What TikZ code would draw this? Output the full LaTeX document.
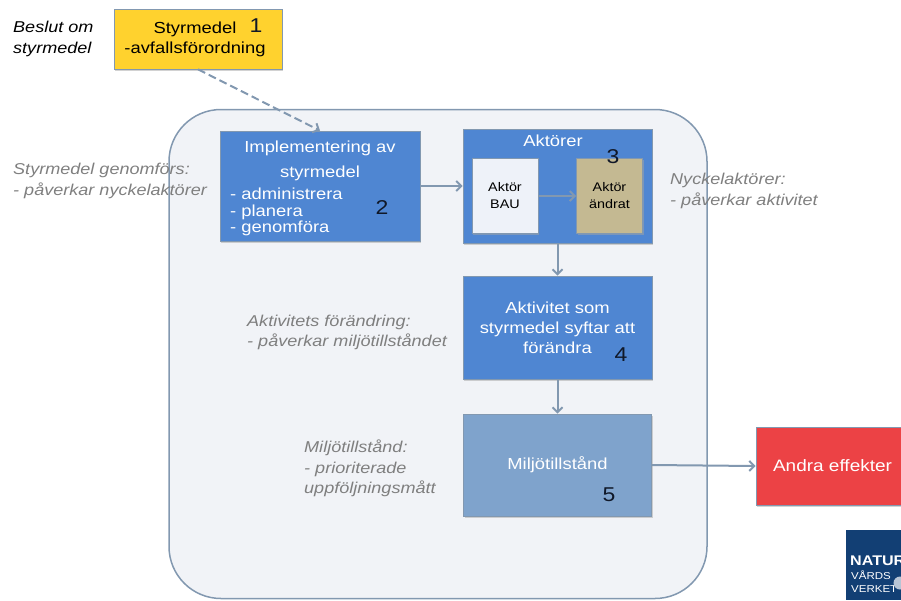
\documentclass[tikz,border=0pt]{standalone}
\usepackage{fontspec}
\setmainfont[FakeStretch=1.15]{Liberation Sans}
\usetikzlibrary{calc,shadows,arrows.meta}
\definecolor{panelfill}{HTML}{F1F3F7}
\definecolor{linegrey}{HTML}{8298B0}
\definecolor{boxblue}{HTML}{4F86D2}
\definecolor{stateblue}{HTML}{7FA3CC}
\definecolor{boxyellow}{HTML}{FFD22E}
\definecolor{boxtan}{HTML}{C4B992}
\definecolor{boxpale}{HTML}{EEF2F9}
\definecolor{boxred}{HTML}{EC4245}
\definecolor{logoblue}{HTML}{123F74}
\definecolor{numberink}{HTML}{101828}
\definecolor{notegrey}{HTML}{7F7F7F}
\tikzset{
    flowbox/.style={draw=linegrey, line width=0.7pt, fill=boxblue, text=white,
        align=center, inner sep=0pt, font=\fontsize{16}{20}\selectfont,
        drop shadow={shadow xshift=1pt, shadow yshift=-1.5pt, fill=black!35}},
    innerbox/.style={flowbox, text=black, font=\fontsize{12.5}{17}\selectfont,
        minimum width=66pt, minimum height=75pt},
    notetext/.style={align=left, anchor=north west, inner sep=0pt, text=notegrey,
        font=\fontsize{15.7}{20.5}\selectfont\itshape},
    numtext/.style={text=numberink, inner sep=0pt, font=\fontsize{20}{22}\selectfont},
    flowarrow/.style={-{Straight Barb[length=5pt,width=10pt]}, draw=linegrey, line width=2pt}
}
\begin{document}
\begin{tikzpicture}[x=1pt, y=-1pt]
    \useasboundingbox (0,0) rectangle (901,600);
    \clip (0,0) rectangle (901,600);
    % Panel
    \node [draw=linegrey,
        line width=1.5pt,
        fill=panelfill,
        rounded corners=52pt,
        minimum width=538pt,
        minimum height=489pt
    ]  (Panel) at (438,354) {};
    % Boxes
    \node [flowbox,
        fill=boxyellow,
        text=black,
        minimum width=168pt,
        minimum height=60pt,
        text width=168pt
    ]  (Policy) at (198,39) {\hspace*{-6pt}Styrmedel\\\hspace*{-6pt}-avfallsförordning};
    \node [flowbox,
        minimum width=200pt,
        minimum height=110pt,
        text width=190pt
    ]  (Implement) at (320,186) {};
    \node [text=white, align=center, font=\fontsize{16}{25}\selectfont]
        (ImplementTitle) at (320,161) {Implementering av\\styrmedel};
    \node [text=white, align=left, anchor=north west, inner sep=0pt,
        font=\fontsize{16}{16.5}\selectfont]
        (ImplementList) at (230,188) {- administrera\\- planera\\- genomföra};
    \node [flowbox,
        minimum width=189pt,
        minimum height=114pt
    ]  (Actors) at (557.5,186) {};
    \node [text=white, font=\fontsize{16}{18}\selectfont]
        (ActorsTitle) at (553,141) {Aktörer};
    \node [innerbox,
        fill=boxpale
    ]  (ActorBau) at (505,196) {Aktör\\BAU};
    \node [innerbox,
        fill=boxtan
    ]  (ActorNew) at (609.5,196) {Aktör\\ändrat};
    \node [flowbox,
        minimum width=189pt,
        minimum height=103pt
    ]  (Activity) at (557.5,327.5) {Aktivitet som\\styrmedel syftar att\\förändra};
    \node [flowbox,
        fill=stateblue,
        minimum width=188pt,
        minimum height=102pt
    ]  (State) at (557.5,465) {Miljötillstånd};
    \node [flowbox,
        fill=boxred,
        minimum width=160pt,
        minimum height=78pt
    ]  (Effects) at (836,466) {};
    \node [text=white, font=\fontsize{16.5}{18}\selectfont]
        (EffectsText) at (832.5,466) {Andra effekter};
    % Numbers
    \node [numtext] (Num1) at (256,26) {1};
    \node [numtext] (Num2) at (382,208) {2};
    \node [numtext] (Num3) at (613,157) {3};
    \node [numtext] (Num4) at (621,355) {4};
    \node [numtext] (Num5) at (609,495) {5};
    % Connectors
    \draw [flowarrow, dash pattern=on 8pt off 4pt] (Policy.south) -- (Implement.north);
    \draw [flowarrow] (Implement.east |- 0,186) -- (Actors.west |- 0,186);
    \draw [flowarrow] (ActorBau) ++(33,0) -- (ActorNew.west);
    \draw [flowarrow] (Actors.south) -- (Activity.north);
    \draw [flowarrow] (Activity.south) -- (State.north);
    \draw [flowarrow] (State.east) -- (Effects.west);
    % Notes
    \node [notetext, text=black] (NoteDecision) at (13,21) {Beslut om\\styrmedel};
    \node [notetext] (NoteImplement) at (13,163) {Styrmedel genomförs:\\- påverkar nyckelaktörer};
    \node [notetext] (NoteActors) at (670,173) {Nyckelaktörer:\\- påverkar aktivitet};
    \node [notetext] (NoteActivity) at (247,314.5) {Aktivitets förändring:\\- påverkar miljötillståndet};
    \node [notetext] (NoteState) at (304,440) {Miljötillstånd:\\- prioriterade\\uppföljningsmått};
    % Logo
    \node [fill=logoblue,
        anchor=north west,
        minimum width=60pt,
        minimum height=70pt
    ]  (Logo) at (846,530) {};
    \node [text=white, anchor=north west, inner sep=0pt, align=left,
        font=\bfseries\fontsize{14}{14}\selectfont]
        (LogoName) at (850,556) {NATUR};
    \node [text=white, anchor=north west, inner sep=0pt, align=left,
        font=\fontsize{10}{13}\selectfont]
        (LogoSub) at (851,571) {VÅRDS\\VERKET};
    \node [circle, fill=white!70!logoblue, minimum size=13pt, inner sep=0pt]
        (LogoGlobe) at (900,583) {};
\end{tikzpicture}
\end{document}
